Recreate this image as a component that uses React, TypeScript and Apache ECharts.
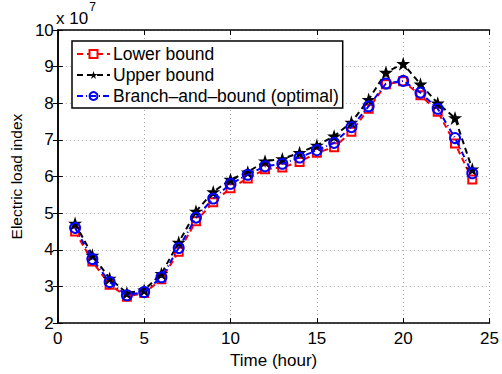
import React, { useEffect, useRef } from "react";
import * as echarts from "echarts";

const hours = [1, 2, 3, 4, 5, 6, 7, 8, 9, 10, 11, 12, 13, 14, 15, 16, 17, 18, 19, 20, 21, 22, 23, 24];
const lowerBound = [4.5, 3.68, 3.05, 2.72, 2.82, 3.2, 3.95, 4.78, 5.3, 5.68, 5.95, 6.2, 6.25, 6.4, 6.65, 6.8, 7.22, 7.85, 8.52, 8.6, 8.22, 7.77, 6.9, 5.92];
const upperBound = [4.72, 3.85, 3.22, 2.82, 2.9, 3.35, 4.2, 5.05, 5.58, 5.92, 6.12, 6.42, 6.48, 6.65, 6.85, 7.1, 7.48, 8.1, 8.84, 9.08, 8.52, 8.0, 7.6, 6.2];
const branchBound = [4.6, 3.75, 3.12, 2.76, 2.85, 3.25, 4.05, 4.88, 5.4, 5.8, 6.05, 6.28, 6.35, 6.52, 6.72, 6.92, 7.35, 7.92, 8.54, 8.61, 8.29, 7.85, 7.05, 6.09];
const seriesNames = ["Lower bound", "Upper bound", "Branch–and–bound (optimal)"];

const STAR = "path://M50 0L61.23 34.55L97.55 34.55L68.17 55.9L79.39 90.45L50 69.1L20.61 90.45L31.83 55.9L2.45 34.55L38.77 34.55Z";
const FONT = "Liberation Sans";

export default function App() {
  const ref = useRef<HTMLDivElement>(null);
  useEffect(() => {
    if (!ref.current) return;
    const chart = echarts.init(ref.current, undefined, { renderer: "svg" });
    const pair = (arr: number[]) => hours.map((h, i) => [h, arr[i]]);
    const axisCommon = {
      axisLine: { show: true, lineStyle: { color: "#000", width: 1.5 } },
      axisTick: { show: true, inside: true, length: 5, lineStyle: { color: "#000" } },
      axisLabel: { color: "#000", fontSize: 17, fontFamily: FONT },
    };
    const grid = { color: "#a8a8a8", type: [1, 3], width: 1 };
    chart.setOption({
      animation: false,
      backgroundColor: "#fff",
      textStyle: { fontFamily: FONT },
      grid: { left: 57, right: 11, top: 30, bottom: 39 },
      xAxis: [
        {
          type: "value", min: 0, max: 25, interval: 5,
          ...axisCommon,
          axisLabel: { ...axisCommon.axisLabel, margin: 7 },
          splitLine: { show: true, lineStyle: grid },
          name: "Time (hour)", nameLocation: "middle", nameGap: 22,
          nameTextStyle: { color: "#000", fontSize: 17, fontFamily: FONT },
        },
        {
          type: "value", min: 0, max: 25, interval: 5, position: "top",
          ...axisCommon, axisLabel: { show: false }, splitLine: { show: false },
        },
      ],
      yAxis: [
        {
          type: "value", min: 2, max: 10, interval: 1,
          ...axisCommon,
          axisLabel: { ...axisCommon.axisLabel, margin: 4 },
          splitLine: { show: true, lineStyle: grid },
          name: "Electric load index", nameLocation: "middle", nameGap: 30,
          nameTextStyle: { color: "#000", fontSize: 15.5, fontFamily: FONT },
        },
        {
          type: "value", min: 2, max: 10, interval: 1, position: "right",
          ...axisCommon, axisLabel: { show: false }, splitLine: { show: false },
        },
      ],
      legend: {
        orient: "vertical", left: 72, top: 41,
        backgroundColor: "#fff", borderColor: "#000", borderWidth: 1.5,
        padding: [4, 4, 3, 4], itemGap: 3, itemWidth: 33, itemHeight: 10,
        textStyle: { color: "#000", fontSize: 17.5, fontFamily: FONT, padding: [0, 0, 0, -2] },
        data: seriesNames,
      },
      graphic: [
        {
          type: "text", left: 56, top: 1,
          style: {
            text: "{a|x 10}{b|7}",
            rich: {
              a: { fontSize: 17, fontFamily: FONT, fill: "#000", padding: [9, 0, 0, 0] },
              b: { fontSize: 12, fontFamily: FONT, fill: "#000", verticalAlign: "top", padding: [0, 0, 9, 1] },
            },
          },
        },
      ],
      series: [
        {
          name: seriesNames[0], type: "line", data: pair(lowerBound),
          symbol: "rect", symbolSize: 8, showAllSymbol: true,
          lineStyle: { color: "#ff0000", width: 2, type: [6, 4] },
          itemStyle: { color: "#fff", borderColor: "#ff0000", borderWidth: 2 },
          z: 2,
        },
        {
          name: seriesNames[1], type: "line", data: pair(upperBound),
          symbol: STAR, symbolSize: 14, showAllSymbol: true,
          lineStyle: { color: "#000", width: 2, type: [6, 4] },
          itemStyle: { color: "#000", borderColor: "#000", borderWidth: 0 },
          z: 3,
        },
        {
          name: seriesNames[2], type: "line", data: pair(branchBound),
          symbol: "circle", symbolSize: 10, showAllSymbol: true,
          lineStyle: { color: "#0000ff", width: 2, type: [6, 3, 1, 3] },
          itemStyle: { color: "rgba(255,255,255,0)", borderColor: "#0000ff", borderWidth: 2 },
          z: 4,
        },
      ],
    });
    return () => chart.dispose();
  }, []);
  return <div ref={ref} style={{ width: 502, height: 374, position: "absolute", left: 0, top: 0 }} />;
}
